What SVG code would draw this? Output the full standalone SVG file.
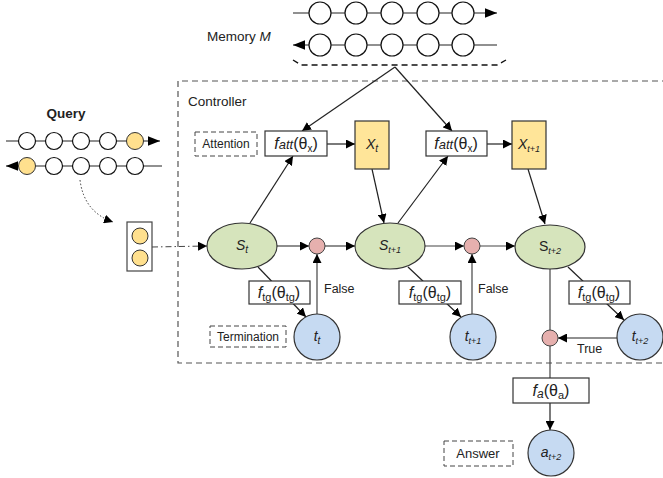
<svg xmlns="http://www.w3.org/2000/svg" width="663" height="478" viewBox="0 0 663 478">
<defs>
<marker id="ah" viewBox="0 0 10 10" refX="10" refY="5" markerWidth="9" markerHeight="9" markerUnits="userSpaceOnUse" orient="auto"><path d="M0,0 L10,5 L0,10 Z" fill="#000"/></marker>
<marker id="ahb" viewBox="0 0 10 10" refX="10" refY="5" markerWidth="12" markerHeight="12" markerUnits="userSpaceOnUse" orient="auto"><path d="M0,1 L10,5 L0,9 Z" fill="#000"/></marker>
</defs>
<style>
text{font-family:"Liberation Sans",Arial,sans-serif;fill:#222}
.ln{stroke:#222;stroke-width:1.2;fill:none}
.gl{stroke:#444;stroke-width:1.2;fill:none}
.wc{fill:#fff;stroke:#111;stroke-width:1.2}
.yc{fill:#FFE08E;stroke:#333;stroke-width:1}
.box{fill:#fff;stroke:#333;stroke-width:1.2}
.dbox{fill:#fff;stroke:#444;stroke-width:1;stroke-dasharray:5,3}
.yel{fill:#FFE599;stroke:#333;stroke-width:1.2}
.grn{fill:#D6E4BC;stroke:#333;stroke-width:1.2}
.blu{fill:#C6DAF2;stroke:#333;stroke-width:1.2}
.pnk{fill:#E6B0AE;stroke:#444;stroke-width:1}
.fn{font-size:16px}
.lb{font-size:12.5px}
.it{font-style:italic}
</style>

<!-- Controller frame -->
<g id="controller">
<path d="M668,81 H178 V363 H668" fill="none" stroke="#555" stroke-width="1.2" stroke-dasharray="6,4"/>
<text x="188" y="106" font-size="13.5">Controller</text>
</g>

<!-- Memory -->
<g id="memory">
<text x="207" y="41" font-size="13.5">Memory <tspan class="it">M</tspan></text>
<line x1="293" y1="13" x2="497" y2="13" class="ln" marker-end="url(#ahb)"/>
<line x1="497" y1="45" x2="293" y2="45" class="ln" marker-end="url(#ahb)"/>
<circle cx="320" cy="13" r="11" class="wc"/><circle cx="356" cy="13" r="11" class="wc"/><circle cx="392" cy="13" r="11" class="wc"/><circle cx="428" cy="13" r="11" class="wc"/><circle cx="463" cy="13" r="11" class="wc"/>
<circle cx="320" cy="45" r="11" class="wc"/><circle cx="356" cy="45" r="11" class="wc"/><circle cx="392" cy="45" r="11" class="wc"/><circle cx="428" cy="45" r="11" class="wc"/><circle cx="463" cy="45" r="11" class="wc"/>
<path d="M293,60 L301,65 H497 L506,60" fill="none" stroke="#111" stroke-width="1.4" stroke-dasharray="6,4"/>
</g>

<!-- Query -->
<g id="query">
<text x="66" y="118" font-size="13.5" font-weight="bold" text-anchor="middle">Query</text>
<line x1="6" y1="141" x2="160" y2="141" class="ln" marker-end="url(#ahb)"/>
<line x1="162" y1="166" x2="6" y2="166" class="ln" marker-end="url(#ahb)"/>
<circle cx="27" cy="141" r="8.5" class="wc"/><circle cx="54" cy="141" r="8.5" class="wc"/><circle cx="81" cy="141" r="8.5" class="wc"/><circle cx="108" cy="141" r="8.5" class="wc"/><circle cx="135" cy="141" r="8.5" class="yc"/>
<circle cx="27" cy="166" r="8.5" class="yc"/><circle cx="54" cy="166" r="8.5" class="wc"/><circle cx="81" cy="166" r="8.5" class="wc"/><circle cx="108" cy="166" r="8.5" class="wc"/><circle cx="135" cy="166" r="8.5" class="wc"/>
</g>

<g id="query-vec">
<rect x="127" y="222" width="25" height="49" fill="#fff" stroke="#444" stroke-width="1.2"/>
<circle cx="140" cy="236" r="8" class="yc"/>
<circle cx="140" cy="258" r="8" class="yc"/>
</g>

<!-- Labels (dashed) -->
<g id="attention-label"><rect x="195" y="132" width="62" height="24" class="dbox"/><text x="226" y="148" font-size="12" text-anchor="middle">Attention</text></g>
<g id="termination-label"><rect x="210" y="326" width="76" height="21" class="dbox"/><text x="248" y="341" font-size="12" text-anchor="middle">Termination</text></g>
<g id="answer-label"><rect x="444" y="441" width="69" height="25" class="dbox"/><text x="478" y="458" font-size="13" text-anchor="middle">Answer</text></g>

<!-- Connectors -->
<g id="connectors">
<line x1="395" y1="67" x2="302" y2="131" class="ln" marker-end="url(#ah)"/>
<line x1="395" y1="67" x2="452" y2="131" class="ln" marker-end="url(#ah)"/>
<path d="M80,180 Q84,212 113,222" fill="none" stroke="#333" stroke-width="1" stroke-dasharray="1.5,2" marker-end="url(#ah)"/>
<line x1="152" y1="247" x2="207" y2="246" stroke="#444" stroke-width="1" stroke-dasharray="6,3,1.5,3" marker-end="url(#ah)"/>
<line x1="250" y1="223" x2="293" y2="156" class="ln" marker-end="url(#ah)"/>
<line x1="398" y1="223" x2="448" y2="156" class="ln" marker-end="url(#ah)"/>
<line x1="327" y1="144" x2="355" y2="144" class="ln" marker-end="url(#ah)"/>
<line x1="487" y1="144" x2="512" y2="144" class="ln" marker-end="url(#ah)"/>
<line x1="372" y1="169" x2="384" y2="223" class="ln" marker-end="url(#ah)"/>
<line x1="528" y1="169" x2="545" y2="224" class="ln" marker-end="url(#ah)"/>
<line x1="277" y1="246" x2="309" y2="246" class="gl" marker-end="url(#ah)"/>
<line x1="325" y1="246" x2="355" y2="246" class="gl" marker-end="url(#ah)"/>
<line x1="425" y1="246" x2="464" y2="246" class="gl" marker-end="url(#ah)"/>
<line x1="480" y1="246" x2="515" y2="246" class="gl" marker-end="url(#ah)"/>
<line x1="258" y1="267" x2="306" y2="317" class="ln" marker-end="url(#ah)"/>
<line x1="408" y1="267" x2="461" y2="317" class="ln" marker-end="url(#ah)"/>
<line x1="568" y1="267" x2="624" y2="320" class="ln" marker-end="url(#ah)"/>
<line x1="317" y1="314" x2="317" y2="254" class="gl" marker-end="url(#ah)"/>
<line x1="472" y1="314" x2="472" y2="254" class="gl" marker-end="url(#ah)"/>
<line x1="550" y1="269" x2="550" y2="330" class="gl"/>
<line x1="617" y1="338" x2="558" y2="338" class="ln" marker-end="url(#ah)"/>
<line x1="550" y1="346" x2="550" y2="378" class="gl"/>
<line x1="550" y1="403" x2="550" y2="430" class="ln" marker-end="url(#ah)"/>
<text x="324" y="293" class="lb">False</text>
<text x="478" y="293" class="lb">False</text>
<text x="577" y="353" class="lb">True</text>
</g>

<!-- Attention functions -->
<g id="fatt1"><rect x="265" y="131" width="62" height="25" class="box"/><text x="296" y="149" class="fn" text-anchor="middle"><tspan class="it">f</tspan><tspan class="it" font-size="13">att</tspan>(θ<tspan font-size="10" dy="3">x</tspan><tspan dy="-3">)</tspan></text></g>
<g id="fatt2"><rect x="426" y="131" width="61" height="25" class="box"/><text x="456" y="149" class="fn" text-anchor="middle"><tspan class="it">f</tspan><tspan class="it" font-size="13">att</tspan>(θ<tspan font-size="10" dy="3">x</tspan><tspan dy="-3">)</tspan></text></g>

<g id="Xt"><rect x="355" y="121" width="34" height="48" class="yel"/><text x="372" y="149" font-size="14" text-anchor="middle"><tspan class="it">X</tspan><tspan class="it" font-size="10" dy="3">t</tspan></text></g>
<g id="Xt1"><rect x="512" y="121" width="34" height="48" class="yel"/><text x="529" y="149" font-size="14" text-anchor="middle"><tspan class="it">X</tspan><tspan class="it" font-size="9" dy="3">t+1</tspan></text></g>

<!-- States -->
<g id="St"><ellipse cx="242" cy="246" rx="35" ry="23" class="grn"/><text x="242" y="250" font-size="14" text-anchor="middle"><tspan class="it">S</tspan><tspan class="it" font-size="10" dy="3">t</tspan></text></g>
<g id="St1"><ellipse cx="390" cy="246" rx="35" ry="23" class="grn"/><text x="390" y="250" font-size="14" text-anchor="middle"><tspan class="it">S</tspan><tspan class="it" font-size="9" dy="3">t+1</tspan></text></g>
<g id="St2"><ellipse cx="550" cy="247" rx="35" ry="22" class="grn"/><text x="550" y="251" font-size="14" text-anchor="middle"><tspan>S</tspan><tspan class="it" font-size="9" dy="3">t+2</tspan></text></g>

<!-- Gates -->
<g id="gate1"><circle cx="317" cy="246" r="8" class="pnk"/></g>
<g id="gate2"><circle cx="472" cy="246" r="8" class="pnk"/></g>
<g id="gate3"><circle cx="550" cy="338" r="8" class="pnk"/></g>

<!-- Termination functions -->
<g id="ftg1"><rect x="249" y="281" width="61" height="23" class="box"/><text x="279" y="298" class="fn" text-anchor="middle"><tspan class="it">f</tspan><tspan font-size="11" dy="3">tg</tspan><tspan dy="-3">(θ</tspan><tspan font-size="11" dy="3">tg</tspan><tspan dy="-3">)</tspan></text></g>
<g id="ftg2"><rect x="399" y="281" width="62" height="23" class="box"/><text x="430" y="298" class="fn" text-anchor="middle"><tspan class="it">f</tspan><tspan font-size="11" dy="3">tg</tspan><tspan dy="-3">(θ</tspan><tspan font-size="11" dy="3">tg</tspan><tspan dy="-3">)</tspan></text></g>
<g id="ftg3"><rect x="569" y="281" width="61" height="23" class="box"/><text x="599" y="298" class="fn" text-anchor="middle"><tspan class="it">f</tspan><tspan font-size="11" dy="3">tg</tspan><tspan dy="-3">(θ</tspan><tspan font-size="11" dy="3">tg</tspan><tspan dy="-3">)</tspan></text></g>

<!-- Termination nodes -->
<g id="tt"><circle cx="317" cy="337" r="23" class="blu"/><text x="317" y="341" font-size="14" text-anchor="middle"><tspan class="it">t</tspan><tspan class="it" font-size="10" dy="3">t</tspan></text></g>
<g id="tt1"><circle cx="473" cy="337" r="23" class="blu"/><text x="473" y="341" font-size="14" text-anchor="middle"><tspan class="it">t</tspan><tspan class="it" font-size="9" dy="3">t+1</tspan></text></g>
<g id="tt2"><circle cx="640" cy="337" r="23" class="blu"/><text x="640" y="341" font-size="14" text-anchor="middle"><tspan class="it">t</tspan><tspan class="it" font-size="9" dy="3">t+2</tspan></text></g>

<!-- Answer -->
<g id="fa"><rect x="513" y="378" width="76" height="25" class="box"/><text x="551" y="396" class="fn" text-anchor="middle"><tspan class="it">f</tspan><tspan class="it" font-size="12" dy="2">a</tspan><tspan dy="-2">(θ</tspan><tspan font-size="11" dy="3">a</tspan><tspan dy="-3">)</tspan></text></g>
<g id="answer"><circle cx="551" cy="453" r="23" class="blu"/><text x="551" y="457" font-size="14" text-anchor="middle"><tspan class="it">a</tspan><tspan class="it" font-size="9" dy="3">t+2</tspan></text></g>
</svg>
